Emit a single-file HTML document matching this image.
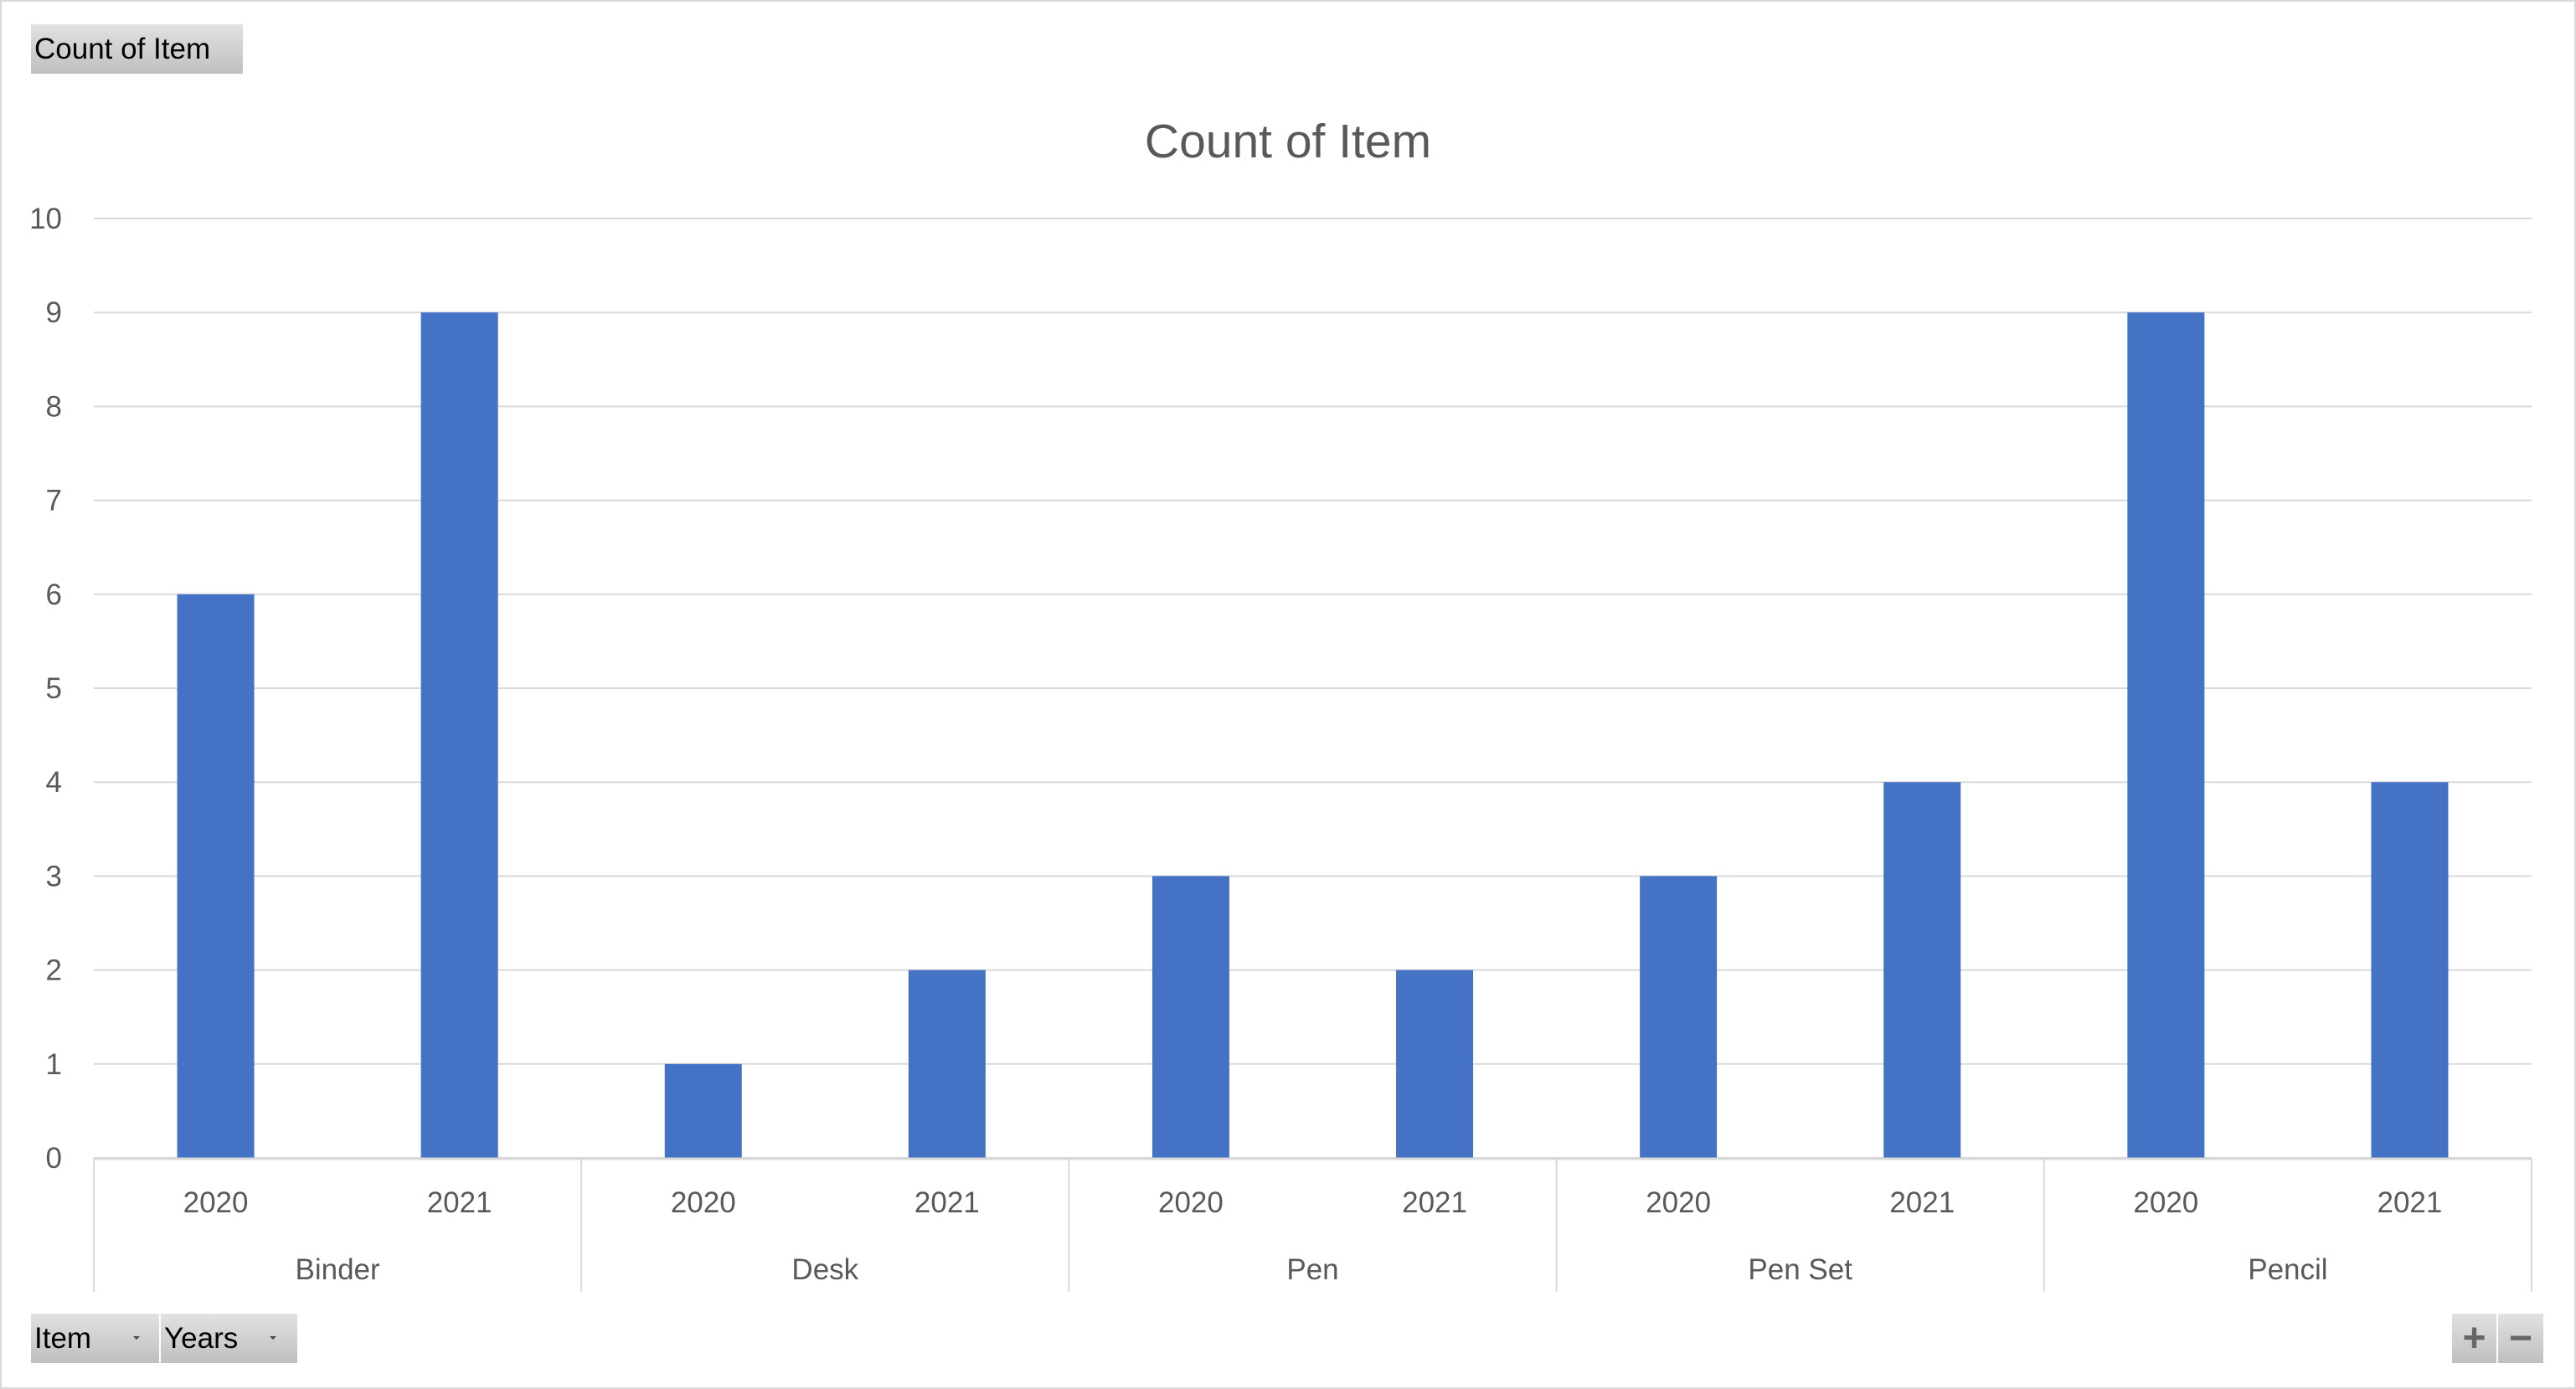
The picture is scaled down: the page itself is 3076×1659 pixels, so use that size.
<!DOCTYPE html>
<html><head><meta charset="utf-8"><style>
html,body{margin:0;padding:0;background:#fff;}
body{width:3076px;height:1659px;position:relative;overflow:hidden;font-family:"Liberation Sans","DejaVu Sans",sans-serif;}
.frame{position:absolute;left:0;top:0;width:3072px;height:1655px;border:2px solid #d9d9d9;}
.btn{position:absolute;background:linear-gradient(#e2e2e2,#bfbfbf);color:#000;font-size:35px;line-height:59px;box-sizing:border-box;padding-left:4px;}
.arrow{position:absolute;top:27px;width:0;height:0;border-left:4px solid transparent;border-right:4px solid transparent;border-top:4px solid #444;}
</style></head><body>
<div class="frame"></div>
<div class="btn" style="left:37px;top:29px;width:253px;height:59px;">Count of Item</div>
<div class="btn" style="left:37px;top:1569px;width:153px;height:59px;">Item<span class="arrow" style="left:122px"></span></div>
<div class="btn" style="left:192px;top:1569px;width:163px;height:59px;">Years<span class="arrow" style="left:130px"></span></div>
<div class="btn" style="left:2928px;top:1569px;width:53px;height:59px;padding:0;text-align:center;color:#666;font-size:48px;font-weight:bold;">+</div>
<div class="btn" style="left:2983px;top:1569px;width:54px;height:59px;padding:0;text-align:center;color:#666;font-size:48px;font-weight:bold;">−</div>
<svg id="chart" width="3076" height="1659" style="position:absolute;left:0;top:0;">
<text x="1538" y="188" text-anchor="middle" font-size="57" fill="#595959" font-family="Liberation Sans, sans-serif">Count of Item</text>
</svg>
<script>
const items=["Binder","Desk","Pen","Pen Set","Pencil"];
const years=["2020","2021"];
const counts2020=[6,1,3,3,9];
const counts2021=[9,2,2,4,4];
const yTicks=[0,1,2,3,4,5,6,7,8,9,10];
const svg=document.getElementById('chart');
const NS='http://www.w3.org/2000/svg';
const L=112,R=3023,T=261,B=1383,yMax=10;
const y=v=>B-(v/yMax)*(B-T);
const groupW=(R-L)/items.length, slotW=groupW/years.length, barW=92;
function mk(tag,attrs){const e=document.createElementNS(NS,tag);for(const k in attrs)e.setAttribute(k,attrs[k]);svg.appendChild(e);return e;}
yTicks.forEach(t=>{
  const g=mk('line',{x1:L,x2:R,y1:y(t),y2:y(t),stroke:'#d9d9d9','stroke-width':2});
  
  
  const tx=mk('text',{x:74,y:y(t)+12,'text-anchor':'end','font-size':35,fill:'#595959'});
  tx.textContent=t;
  
  
});
const series=[counts2020,counts2021];
items.forEach((it,i)=>{
  series.forEach((s,j)=>{
    const cx=L+i*groupW+(j+0.5)*slotW;
    const r=mk('rect',{x:cx-barW/2,y:y(s[i]),width:barW,height:B-y(s[i]),fill:'#4472c4'});
    
    
    const tx=mk('text',{x:cx,y:1448,'text-anchor':'middle','font-size':35,fill:'#595959'});
    tx.textContent=years[j];
    
    
  });
  const gx=L+(i+0.5)*groupW;
  const tx=mk('text',{x:gx,y:1528,'text-anchor':'middle','font-size':35,fill:'#595959'});
  tx.textContent=it;
  
  
});
for(let i=0;i<=items.length;i++){
  const x=L+i*groupW;
  const ln=mk('line',{x1:x,x2:x,y1:B,y2:1543,stroke:'#d9d9d9','stroke-width':2});
  
  
}
const ax=mk('line',{x1:L,x2:R,y1:B+1,y2:B+1,stroke:'#d9d9d9','stroke-width':3});


</script>
</body></html>
